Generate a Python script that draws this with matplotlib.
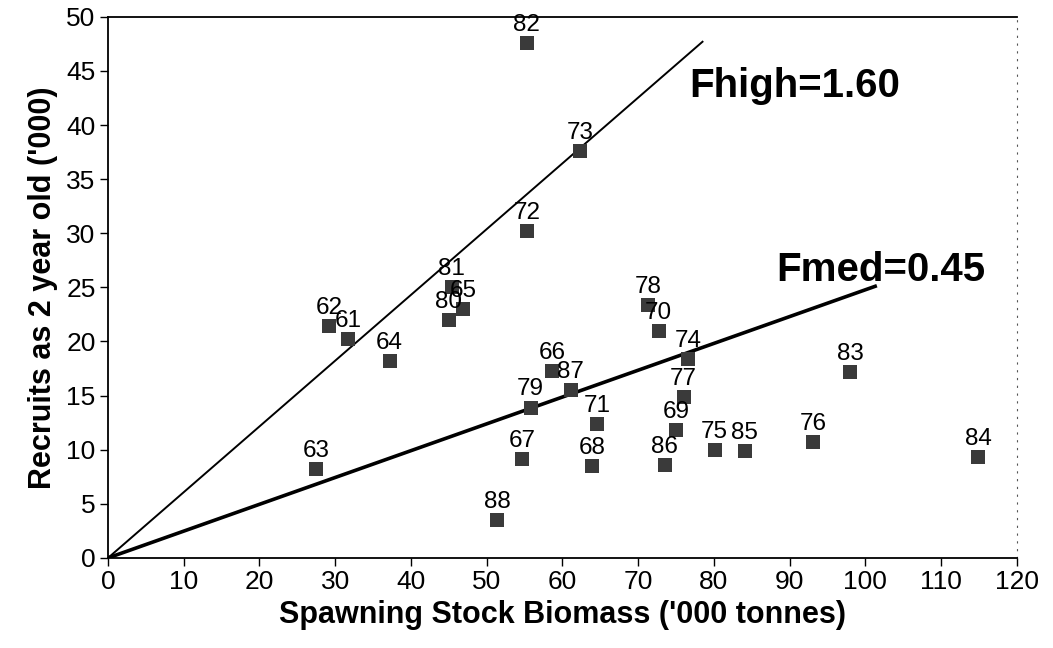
import matplotlib
matplotlib.use("Agg")
import matplotlib.pyplot as plt

plt.rcParams['font.family'] = ['Liberation Sans', 'DejaVu Sans']

# year class labels with spawning stock biomass ('000 t) and recruits at age 2 ('000)
years = ["82", "73", "72", "81", "65", "80", "62", "61", "64", "63",
         "78", "70", "74", "66", "87", "79", "71", "77", "69", "67",
         "68", "86", "75", "85", "88", "83", "76", "84"]
ssb = [55.3, 62.3, 55.3, 45.4, 46.9, 45.0, 29.2, 31.7, 37.2, 27.5,
       71.3, 72.7, 76.6, 58.6, 61.1, 55.8, 64.6, 76.0, 75.0, 54.7,
       63.9, 73.5, 80.1, 84.1, 51.4, 98.0, 93.1, 114.9]
recruits = [47.6, 37.6, 30.2, 25.0, 23.0, 22.0, 21.4, 20.2, 18.2, 8.2,
            23.4, 21.0, 18.4, 17.3, 15.5, 13.9, 12.4, 14.9, 11.8, 9.1,
            8.5, 8.6, 10.0, 9.9, 3.5, 17.2, 10.7, 9.3]

# reference lines through the origin
fhigh_x = [0, 78.5]
fhigh_y = [0, 47.7]
fmed_x = [0, 101.3]
fmed_y = [0, 25.1]

fig = plt.figure(figsize=(10.53, 6.48), dpi=100)
ax = fig.add_axes([0.1026, 0.139, 0.863, 0.835])

ax.plot(fhigh_x, fhigh_y, color="black", lw=1.4, zorder=2)
ax.plot(fmed_x, fmed_y, color="black", lw=2.6, zorder=2)

ax.scatter(ssb, recruits, marker="s", s=100, color="#3a3a3a", zorder=3, linewidths=0)
for lab, x, y in zip(years, ssb, recruits):
    ax.annotate(lab, (x, y), xytext=(0, 13), textcoords="offset points",
                ha="center", va="center", fontsize=17.5, zorder=4)

ax.text(76.8, 42.6, "Fhigh=1.60", fontsize=29, fontweight="bold", va="baseline")
ax.text(88.3, 25.6, "Fmed=0.45", fontsize=29, fontweight="bold", va="baseline")

ax.set_xlim(0, 120)
ax.set_ylim(0, 50)
ax.set_xticks(range(0, 121, 10))
ax.set_yticks(range(0, 51, 5))
ax.tick_params(direction="out", length=6, width=1, labelsize=19, pad=3)

for side in ["left", "bottom", "top"]:
    ax.spines[side].set_linewidth(1.3)
ax.spines["right"].set_linestyle((0, (1, 6)))
ax.spines["right"].set_linewidth(0.8)
ax.spines["right"].set_color("#555555")

ax.set_xlabel("Spawning Stock Biomass ('000 tonnes)", fontsize=22, fontweight="bold", labelpad=4)
ax.set_ylabel("Recruits as 2 year old ('000)", fontsize=22, fontweight="bold", labelpad=6)

fig.savefig("out.png", dpi=100)
